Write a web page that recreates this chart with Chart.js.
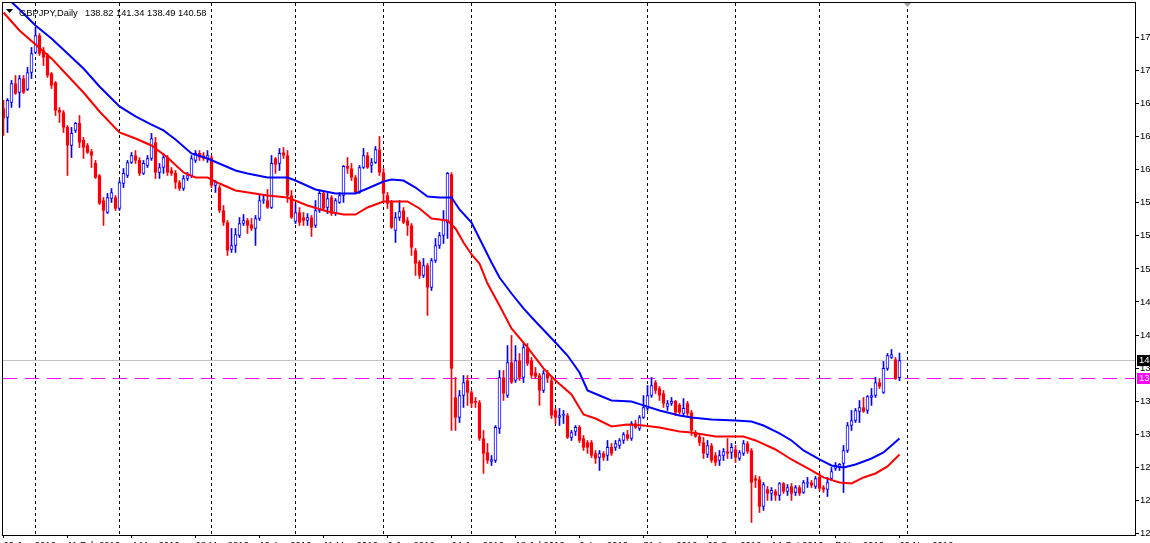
<!DOCTYPE html>
<html>
<head>
<meta charset="utf-8">
<script src="https://cdn.jsdelivr.net/npm/chart.js@4.4.1/dist/chart.umd.min.js"></script>
<style>
html,body{margin:0;padding:0;background:#fff;overflow:hidden}
canvas{display:block}
</style>
</head>
<body>
<canvas id="c" width="1150" height="543"></canvas>
<script>
// ---------------- DATA ----------------
const symbolName = 'GBPJPY,Daily';

const openP = [
166.54,165.62,167.16,169.12,168.19,169.63,168.50,170.25,172.31,174.06,
172.52,172.00,170.15,169.22,166.34,166.13,164.59,162.73,164.28,165.00,
163.25,162.73,162.11,160.88,159.64,157.06,155.83,157.27,157.37,156.24,
158.81,159.64,160.98,161.70,161.19,159.85,160.67,161.39,163.04,159.95,
160.46,161.49,160.15,159.85,158.92,158.30,159.33,159.64,161.19,161.91,
161.70,161.39,161.49,158.61,158.40,156.03,154.80,152.02,152.43,153.46,
154.69,155.00,154.59,154.18,155.21,157.06,157.06,156.34,161.39,160.88,
162.01,161.70,157.58,154.90,155.83,155.31,155.00,155.31,154.49,156.03,
157.79,156.34,157.37,155.72,156.86,157.58,160.57,160.36,159.43,157.89,
160.46,161.70,160.67,160.98,162.32,159.95,157.58,156.86,153.97,155.31,
156.03,155.00,154.49,151.91,150.68,149.34,150.37,148.10,150.88,152.43,
153.46,154.80,159.74,136.77,134.71,136.97,138.52,137.28,136.36,136.25,
132.54,131.10,130.17,130.28,133.57,138.83,136.97,140.37,138.52,140.58,
138.83,141.81,140.58,139.34,139.03,137.49,139.24,138.52,135.43,134.71,
134.91,134.91,132.65,133.26,133.68,132.54,132.13,132.13,131.00,130.58,
131.00,130.79,131.62,131.62,131.82,132.34,132.95,132.54,134.09,133.57,
134.71,135.64,136.97,138.31,137.69,137.18,135.84,136.15,136.36,135.95,
135.12,136.15,135.22,133.16,132.75,132.13,130.89,131.82,130.79,130.28,
130.79,131.20,131.10,131.41,130.48,131.00,132.03,131.31,128.42,128.32,
125.54,127.29,126.88,127.08,126.67,127.91,127.08,127.60,126.98,127.49,
126.98,127.91,128.01,127.60,128.53,127.49,127.29,128.42,129.45,129.56,
129.97,131.31,133.88,134.40,135.33,135.74,135.43,136.77,136.97,138.31,
137.28,139.76,140.89,140.68,138.82];

const highP = [
167.37,167.57,169.43,169.94,169.94,169.94,170.77,172.83,174.89,174.27,
172.83,172.21,170.25,169.32,166.65,166.34,164.79,164.59,165.10,165.82,
163.56,162.94,162.32,161.19,159.74,157.37,157.79,158.30,157.58,159.12,
160.36,161.19,162.01,162.21,161.49,161.19,161.70,163.97,163.56,160.88,
161.91,161.70,160.46,160.15,159.12,159.64,159.95,161.70,162.21,162.21,
162.01,162.21,161.70,159.12,158.61,156.55,155.00,154.18,154.18,155.31,
155.62,155.21,155.21,155.52,157.58,157.58,158.20,161.70,161.49,162.42,
162.52,162.21,158.09,156.76,156.34,155.83,155.72,155.52,157.06,158.09,
157.99,157.79,157.58,157.27,157.89,160.67,161.49,160.88,159.64,160.67,
162.42,162.01,161.39,162.63,163.66,160.36,157.89,157.06,155.83,157.06,
156.34,155.31,154.69,152.12,150.88,151.09,150.57,151.09,153.15,153.77,
156.03,159.95,159.95,138.83,137.49,139.03,139.03,137.49,136.77,136.46,
133.37,132.03,130.79,133.88,139.55,139.55,142.12,143.16,142.12,141.30,
142.33,142.33,140.89,139.86,139.24,139.55,139.55,138.83,135.64,135.64,
135.43,135.12,133.37,133.88,133.88,132.85,132.34,132.34,131.31,131.31,
131.20,132.34,132.03,132.34,132.54,133.16,133.37,134.29,134.40,134.91,
136.97,138.00,138.83,138.52,137.90,137.49,136.46,136.77,136.46,136.15,
136.66,136.36,135.43,133.37,133.06,132.65,132.34,132.03,131.10,131.31,
131.51,132.54,132.03,131.82,131.31,132.34,132.23,131.51,128.73,128.63,
128.01,127.60,127.49,127.29,128.01,128.01,127.80,127.91,127.70,127.70,
128.22,128.53,128.22,128.63,128.94,127.70,128.53,129.56,130.07,129.97,
131.82,134.19,135.43,135.64,136.46,136.77,136.97,137.69,138.83,138.72,
140.48,141.30,141.71,140.89,141.34];

const lowP = [
163.76,164.07,166.65,167.99,166.65,168.09,168.40,169.63,172.21,172.00,
170.97,169.74,168.60,165.82,165.10,164.07,159.64,161.49,164.07,162.52,
161.39,161.91,160.46,159.33,156.65,154.49,155.72,156.86,156.03,156.03,
158.40,159.43,160.88,160.88,159.64,159.74,160.46,161.19,159.33,159.33,
159.85,159.64,159.64,158.30,158.09,158.09,159.12,159.43,160.98,161.19,
161.19,160.98,158.40,157.89,155.83,154.49,151.40,151.71,151.71,153.25,
154.49,153.66,153.97,152.43,155.00,156.76,156.24,156.24,159.85,160.15,
161.39,156.86,155.21,154.69,154.49,154.49,154.49,153.35,154.28,155.83,
156.03,155.72,155.52,155.52,156.76,156.86,159.85,159.12,157.79,157.79,
160.36,160.36,159.95,160.88,159.64,156.86,156.24,154.18,152.74,155.00,
154.69,153.46,151.40,149.34,149.03,149.13,145.22,147.79,150.68,152.12,
152.63,153.15,133.37,133.37,134.19,135.74,135.95,135.74,135.74,132.34,
128.94,129.97,129.76,130.07,133.06,136.46,136.77,138.21,138.31,138.52,
138.31,140.06,138.83,138.72,135.95,137.28,138.31,134.60,134.09,133.88,
134.09,132.54,132.34,132.85,132.13,131.31,131.00,130.58,129.97,129.25,
130.28,130.28,130.79,131.31,131.51,132.03,132.34,132.34,133.57,133.37,
134.60,135.43,136.77,137.18,136.46,135.74,135.43,135.95,134.91,135.02,
134.91,134.91,132.85,132.65,131.82,130.48,130.58,130.07,129.76,129.76,
130.28,130.48,130.48,130.07,130.28,130.79,131.00,123.89,127.49,124.92,
125.13,126.16,126.16,126.16,126.16,126.88,126.67,126.16,126.67,126.67,
126.88,127.49,127.49,127.39,127.19,126.98,126.57,128.22,129.25,129.25,
126.98,131.10,133.37,134.19,134.19,135.22,135.12,135.95,136.77,137.69,
137.18,139.55,140.79,138.62,138.49];

const closeP = [
165.51,167.37,169.12,168.09,169.63,168.19,170.25,172.21,174.06,172.21,
171.80,169.94,168.91,166.34,166.13,164.59,162.73,163.97,165.00,163.04,
162.52,162.01,161.70,159.43,156.76,156.03,157.37,157.89,156.24,158.92,
159.85,160.98,161.70,161.19,159.85,160.88,161.39,163.45,159.95,160.46,
161.49,159.95,159.85,158.92,158.30,159.33,159.64,161.39,161.91,161.49,
161.39,161.70,158.61,158.92,156.03,154.80,151.91,152.43,153.56,154.69,
155.00,154.49,154.18,155.21,157.06,157.10,156.34,160.88,160.77,161.91,
161.70,157.58,155.31,155.83,154.80,155.00,155.31,154.28,156.03,157.79,
156.24,157.27,155.72,157.06,157.58,160.57,160.36,159.43,157.89,160.46,
161.70,160.46,160.98,162.32,159.95,157.79,156.76,154.28,155.31,155.93,
154.80,154.49,152.22,150.57,149.34,150.37,148.10,150.88,152.43,153.46,
155.00,159.85,139.76,134.71,136.97,138.31,137.28,136.15,136.25,132.54,
131.00,130.28,130.38,133.68,138.83,137.18,140.37,138.31,140.58,138.83,
141.91,140.27,139.03,138.93,137.49,139.24,138.72,134.91,134.71,134.91,
135.02,132.65,133.16,133.68,132.34,131.62,131.62,130.79,130.48,131.00,
130.58,131.62,131.00,132.03,132.34,132.95,132.54,134.09,133.68,134.71,
135.74,136.97,138.00,137.49,136.97,136.15,136.15,136.36,135.22,135.22,
135.64,135.12,133.37,132.75,132.13,131.00,131.82,130.28,130.07,130.79,
131.20,131.00,131.62,130.58,131.10,132.03,131.20,128.01,128.22,125.54,
127.80,126.88,127.19,126.67,127.91,127.08,127.49,126.88,127.49,126.88,
128.01,128.01,127.70,128.42,127.39,127.29,128.01,129.14,129.76,129.87,
131.31,133.88,134.40,135.43,135.74,135.33,136.87,136.97,138.31,137.90,
139.76,141.09,141.20,138.72,140.58];

// slow moving average (blue), read at selected bars
const maSlowBars = [0,4,8,12,16,20,24,29,33,37,40,43,47,51,58,61,66,71,73,78,83,88,91,95,97,100,103,106,109,112,114,117,119,122,124,127,130,133,138,141,144,146,149,152,157,160,164,169,172,177,183,187,190,194,197,200,204,207,210,213,217,220,224];
const maSlowValues = [178.29,176.74,175.09,173.75,172.21,170.66,168.81,166.75,165.72,164.89,164.28,163.35,161.91,161.39,160.15,159.85,159.43,159.43,159.12,158.20,157.79,157.79,158.30,159.02,159.23,159.12,158.40,157.48,157.37,157.37,156.14,154.80,153.15,150.68,149.13,147.48,145.94,144.60,142.43,141.09,139.34,137.49,136.97,136.46,136.36,135.95,135.43,134.91,134.71,134.50,134.40,134.30,133.88,133.06,132.34,131.31,130.38,129.76,129.56,129.87,130.48,131.10,132.54];

// fast moving average (red), read at selected bars
const maFastBars = [0,4,8,12,16,20,24,29,33,37,41,45,48,51,54,58,66,71,76,81,85,88,91,95,101,104,107,111,113,115,117,119,121,124,127,131,135,138,142,145,148,152,156,160,164,169,172,178,185,188,193,197,202,205,209,212,215,218,221,224];
const maFastValues = [176.43,174.58,173.14,171.70,169.94,168.19,166.23,164.07,163.45,162.73,161.49,159.95,159.43,159.43,158.81,158.09,157.58,157.37,156.55,155.93,155.62,155.62,156.34,156.96,156.96,156.24,155.21,155.00,154.18,152.74,151.50,150.57,148.51,146.25,143.88,141.92,139.76,138.52,137.08,135.02,134.60,133.78,133.98,133.88,133.68,133.26,133.16,132.75,132.75,132.34,131.41,130.38,129.25,128.53,128.01,127.91,128.53,128.94,129.66,130.89];

// x-axis tick labels (every 16 bars) and month separators
const dateLabelBars = [0,16,32,48,64,80,96,112,128,144,160,176,192,208,224];
const dateLabels = ['20 Jan 2016','11 Feb 2016','4 Mar 2016','28 Mar 2016','19 Apr 2016','11 May 2016','2 Jun 2016','24 Jun 2016','18 Jul 2016','9 Aug 2016','31 Aug 2016','22 Sep 2016','14 Oct 2016','7 Nov 2016','29 Nov 2016'];
const monthStartBars = [8,29,52,73,95,117,138,161,183,204,226];

// price axis ticks
const priceTicks = [122.76,126.17,129.57,132.98,136.39,139.79,143.20,146.61,150.01,153.42,156.83,160.23,163.64,167.05,170.45,173.86];

const bidPrice = 140.58;
const levelPrice = 138.72;

// ---------------- CHART ----------------
const BLUE = '#0000ff', RED = '#ff0000';
const X_MIN = -0.125, X_MAX = X_MIN + 283;
const Y_MIN = 122.60, Y_MAX = 177.41;
const FONT = '"Liberation Sans", Arial, sans-serif';
Chart.defaults.font.family = FONT;
Chart.defaults.color = '#000';

const idx = closeP.map((_, i) => i);
const isBull = i => closeP[i] >= openP[i];

const overlay = {
  id: 'overlay',
  afterDraw(chart) {
    const {ctx, chartArea: a, scales: {y}} = chart;
    ctx.save();
    // frame
    ctx.strokeStyle = '#000';
    ctx.lineWidth = 1;
    ctx.strokeRect(a.left - 0.5, a.top - 0.5, a.right - a.left + 1, a.bottom - a.top + 1);
    // price tags
    const tag = (price, bg) => {
      const py = Math.floor(y.getPixelForValue(price));
      ctx.fillStyle = bg;
      ctx.fillRect(a.right + 2, py - 5, 14, 11);
      ctx.fillStyle = '#fff';
      ctx.font = '9.5px ' + FONT;
      ctx.textAlign = 'left';
      ctx.textBaseline = 'middle';
      ctx.fillText(price.toFixed(2), a.right + 4, py + 0.5);
    };
    tag(bidPrice, '#000');
    tag(levelPrice, '#ff00ff');
    // header
    ctx.fillStyle = '#000';
    ctx.beginPath();
    ctx.moveTo(6, 9); ctx.lineTo(13, 9); ctx.lineTo(9.5, 13); ctx.closePath();
    ctx.fill();
    ctx.font = '9.3px ' + FONT;
    ctx.textBaseline = 'alphabetic';
    ctx.textAlign = 'left';
    const last = closeP.length - 1;
    ctx.fillText(symbolName, 19, 16);
    const nums = [openP[last], highP[last], lowP[last], closeP[last]].map(v => v.toFixed(2)).join(' ');
    ctx.fillText(nums, 85, 16);
    // chart shift marker
    ctx.fillStyle = '#a0a0a0';
    ctx.beginPath();
    ctx.moveTo(904, 3); ctx.lineTo(911, 3); ctx.lineTo(907.5, 7); ctx.closePath();
    ctx.fill();
    ctx.restore();
  }
};

new Chart(document.getElementById('c'), {
  type: 'bar',
  data: {
    datasets: [
      { type: 'line', label: 'MA slow', data: maSlowBars.map((b, k) => ({x: b, y: maSlowValues[k]})),
        borderColor: BLUE, borderWidth: 2, pointRadius: 0, tension: 0, fill: false, order: 0 },
      { type: 'line', label: 'MA fast', data: maFastBars.map((b, k) => ({x: b, y: maFastValues[k]})),
        borderColor: RED, borderWidth: 2, pointRadius: 0, tension: 0, fill: false, order: 0 },
      { type: 'bar', label: 'body', data: idx.map(i => ({x: i, y: [openP[i], closeP[i]]})),
        backgroundColor: idx.map(i => isBull(i) ? '#ffffff' : RED),
        borderColor: idx.map(i => isBull(i) ? BLUE : RED),
        borderWidth: 1, borderSkipped: false, barThickness: 3, grouped: false, minBarLength: 1, order: 1 },
      { type: 'bar', label: 'wick', data: idx.map(i => ({x: i, y: [lowP[i], highP[i]]})),
        backgroundColor: idx.map(i => isBull(i) ? BLUE : RED),
        borderWidth: 0, barThickness: 1, grouped: false, order: 2 },
      { type: 'line', label: 'bid', data: [{x: X_MIN, y: bidPrice}, {x: X_MAX, y: bidPrice}],
        borderColor: '#c0c0c0', borderWidth: 1, pointRadius: 0, order: 3 },
      { type: 'line', label: 'level', data: [{x: X_MIN, y: levelPrice}, {x: X_MAX, y: levelPrice}],
        borderColor: '#ff00ff', borderWidth: 1, borderDash: [14, 8], pointRadius: 0, order: 3 }
    ]
  },
  options: {
    responsive: false,
    devicePixelRatio: 1,
    animation: false,
    layout: { padding: { left: 3, top: 3, right: 0, bottom: 0 } },
    plugins: { legend: { display: false }, tooltip: { enabled: false } },
    scales: {
      x: {
        type: 'linear', position: 'bottom', min: X_MIN, max: X_MAX, bounds: 'data', offset: false,
        afterBuildTicks: s => { s.ticks = dateLabelBars.map(v => ({value: v})); },
        afterFit: s => { s.height = 8; s.paddingLeft = 0; s.paddingRight = 0; },
        ticks: { autoSkip: false, maxRotation: 0, minRotation: 0, align: 'start', padding: 2,
                 font: { size: 9.5 }, color: '#000', callback: (v, k) => dateLabels[k] },
        grid: { offset: false, drawOnChartArea: false, drawTicks: true, tickLength: 3, color: '#000' },
        border: { display: true, color: '#000' }
      },
      x2: {
        type: 'linear', position: 'bottom', min: X_MIN, max: X_MAX, bounds: 'data', offset: false,
        afterBuildTicks: s => { s.ticks = monthStartBars.map(v => ({value: v})); },
        afterFit: s => { s.height = 0; s.paddingLeft = 0; s.paddingRight = 0; },
        ticks: { display: false },
        grid: { offset: false, drawOnChartArea: true, drawTicks: false, color: '#000', lineWidth: 1 },
        border: { display: false, dash: [3, 3] }
      },
      y: {
        type: 'linear', position: 'right', min: Y_MIN, max: Y_MAX, bounds: 'data',
        afterBuildTicks: s => { s.ticks = priceTicks.map(v => ({value: v})); },
        afterFit: s => { s.width = 15; s.paddingTop = 0; s.paddingBottom = 0; },
        ticks: { autoSkip: false, padding: 1, font: { size: 9.5 }, color: '#000', callback: v => Number(v).toFixed(2) },
        grid: { drawOnChartArea: false, drawTicks: true, tickLength: 4, color: '#000' },
        border: { display: true, color: '#000' }
      }
    }
  },
  plugins: [overlay]
});
</script>
</body>
</html>
